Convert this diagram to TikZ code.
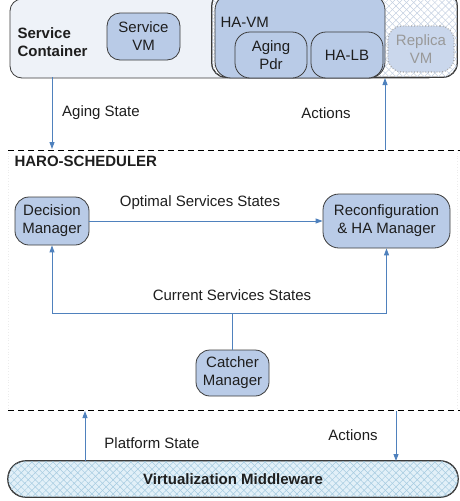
\documentclass[tikz,border=0pt]{standalone}
\usepackage{fontspec}
\setmainfont{Liberation Sans}
\usetikzlibrary{patterns.meta,arrows.meta}
\definecolor{boxblue}{RGB}{185,203,231}
\definecolor{pale}{RGB}{238,242,248}
\definecolor{arrowblue}{RGB}{79,129,189}
\definecolor{edgec}{RGB}{60,60,60}
\definecolor{hatchA}{RGB}{196,208,226}
\definecolor{vmfill}{RGB}{226,240,248}
\definecolor{vmhatch}{RGB}{165,203,224}
\definecolor{replfill}{RGB}{202,215,236}
\definecolor{textc}{RGB}{30,30,30}
\begin{document}
\begin{tikzpicture}[x=1pt,y=-1pt,
  txt/.style={font=\fontsize{15}{18}\selectfont, text=textc},
  box/.style={draw=edgec, fill=boxblue, rounded corners=13pt, line width=0.8pt, align=center, inner sep=0pt, txt},
  arr/.style={draw=arrowblue, line width=0.9pt, -{Triangle[length=7pt,width=5pt]}},
  ln/.style={draw=arrowblue, line width=0.9pt},
  sep/.style={draw=black, dashed, dash pattern=on 6pt off 4pt, line width=0.8pt}]
\useasboundingbox (0,0) rectangle (460,501);
\clip (0,0) rectangle (460,501);
\fill[white] (0,0) rectangle (460,501);
% scheduler region faint border
\draw[gray!15, dotted, line width=0.8pt] (8,150) -- (8,410);
\draw[gray!15, dotted, line width=0.8pt] (457,150) -- (457,410);
% Service container
\node[draw=edgec, fill=pale, rounded corners=12pt, line width=0.8pt, minimum width=430pt, minimum height=79pt, inner sep=0pt] (sc) at (225,38.5) {};
\node[txt, font=\fontsize{15}{18}\selectfont\bfseries, anchor=west, align=left] (sclabel) at (14,42) {Service\\Container};
\node[box, minimum width=73pt, minimum height=47pt] (svm) at (143.5,36.5) {Service\\VM};
% hatched replica container
\node[draw=edgec, fill=white, rounded corners=14pt, line width=0.8pt, minimum width=245pt, minimum height=85pt, inner sep=0pt] (rc) at (334.5,34.5) {};
\fill[pattern={Lines[angle=45,distance=5pt,line width=0.5pt]}, pattern color=hatchA, rounded corners=14pt] (rc.north west) rectangle (rc.south east);
\fill[pattern={Lines[angle=-45,distance=5pt,line width=0.5pt]}, pattern color=hatchA, rounded corners=14pt] (rc.north west) rectangle (rc.south east);
\draw[edgec, rounded corners=14pt, line width=0.8pt] (rc.north west) rectangle (rc.south east);
% HA-VM
\node[box, minimum width=170pt, minimum height=84pt, rounded corners=16pt] (havm) at (300,36) {};
\node[txt, anchor=west] (havmlabel) at (217,22) {HA-VM};
\node[box, minimum width=72pt, minimum height=46pt, rounded corners=15pt] (pdr) at (271,55) {Aging\\Pdr};
\node[box, minimum width=72pt, minimum height=46pt, rounded corners=15pt] (halb) at (347,55) {HA-LB};
\node[box, draw=gray!70, dotted, line width=1.2pt, fill=replfill, text=gray!80, minimum width=66pt, minimum height=46pt, rounded corners=14pt] (rvm) at (421,49) {Replica\\VM};
% separators
\coordinate (s1a) at (8,150);
\coordinate (s1b) at (460,150);
\coordinate (s2a) at (8,410);
\coordinate (s2b) at (460,410);
\draw[sep] (s1a) -- (s1b);
\draw[sep] (s2a) -- (s2b);
\node[txt, font=\fontsize{15}{18}\selectfont\bfseries, anchor=west] (sched) at (11,161) {HARO-SCHEDULER};
% scheduler nodes
\node[box, minimum width=74pt, minimum height=48pt, rounded corners=14pt] (dm) at (52,221) {Decision\\Manager};
\node[box, minimum width=127pt, minimum height=54pt, rounded corners=16pt] (rm) at (386.5,221) {Reconfiguration\\\& HA Manager};
\node[box, minimum width=73pt, minimum height=46pt, rounded corners=14pt] (cm) at (232.5,373) {Catcher\\Manager};
% virtualization middleware
\node[draw=edgec, fill=vmfill, rounded corners=18pt, line width=0.8pt, minimum width=450pt, minimum height=36pt, inner sep=0pt] (vm) at (233,479) {};
\fill[pattern={Lines[angle=45,distance=5pt,line width=0.5pt]}, pattern color=vmhatch, rounded corners=18pt] (vm.north west) rectangle (vm.south east);
\fill[pattern={Lines[angle=-45,distance=5pt,line width=0.5pt]}, pattern color=vmhatch, rounded corners=18pt] (vm.north west) rectangle (vm.south east);
\draw[edgec, rounded corners=18pt, line width=0.8pt] (vm.north west) rectangle (vm.south east);
\node[txt, font=\fontsize{15}{18}\selectfont\bfseries] (vmlabel) at (vm.center) {Virtualization Middleware};
% connectors top
\coordinate (agtop) at (52,77);
\coordinate (agbot) at (52,149);
\draw[arr] (agtop) -- (agbot);
\node[txt] (aglbl) at (101,113) {Aging State};
\coordinate (actbot) at (385,150);
\coordinate (acttop) at (385,78);
\draw[arr] (actbot) -- (acttop);
\node[txt] (actlbl) at (326,113) {Actions};
% scheduler connectors
\draw[arr] (dm.east) -- (rm.west);
\node[txt] (optlbl) at (200,203) {Optimal Services States};
\coordinate (jn) at (232.5,313);
\draw[ln] (cm.north) -- (jn);
\draw[arr] (jn) -| (dm.south);
\draw[arr] (jn) -| (rm.south);
\node[txt] (curlbl) at (232,295) {Current Services States};
% bottom connectors
\coordinate (pstop) at (85,411);
\coordinate (psbot) at (85,461);
\draw[arr] (psbot) -- (pstop);
\node[txt] (pslbl) at (152,443) {Platform State};
\coordinate (a2top) at (396,411);
\coordinate (a2bot) at (396,461);
\draw[arr] (a2top) -- (a2bot);
\node[txt] (a2lbl) at (353,435) {Actions};
\end{tikzpicture}
\end{document}
